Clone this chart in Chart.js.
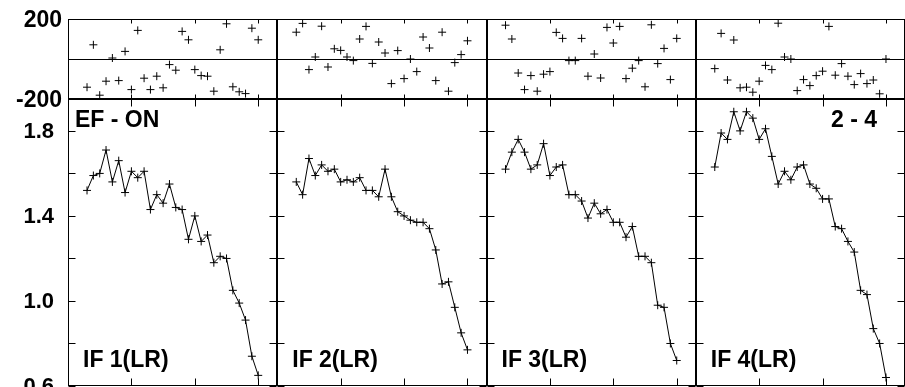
<!DOCTYPE html>
<html>
<head>
<meta charset="utf-8">
<script src="https://cdn.jsdelivr.net/npm/chart.js@4.4.1/dist/chart.umd.min.js"></script>
<style>
  html, body { margin: 0; padding: 0; background: #fff; overflow: hidden; }
  #wrap { position: relative; width: 905px; height: 387px; }
</style>
</head>
<body>
<div id="wrap"><canvas id="c"></canvas></div>
<script>
// channel number along each panel
const channels = [3, 4, 5, 6, 7, 8, 9, 10, 11, 12, 13, 14, 15, 16, 17, 18, 19, 20, 21, 22, 23, 24, 25, 26, 27, 28, 29, 30];
const xTicks = [10, 20, 30];
const phaseTicks = [-200, 0, 200];
const ampTicks = [0.6, 0.8, 1.0, 1.2, 1.4, 1.6, 1.8];
const ampLabelled = [0.6, 1.0, 1.4, 1.8];
const panelNames = ['IF 1(LR)', 'IF 2(LR)', 'IF 3(LR)', 'IF 4(LR)'];

// phase (deg), top strip
const phase1 = [-141, 71, -181, -111, 5, -108, 38, -153, 143, -96, -153, -86, -144, -28, -56, 138, 96, -53, -83, -86, -161, 46, 176, -139, -164, -173, 154, 96];
const phase2 = [134, 178, -53, 10, 164, -40, 51, 43, 10, -8, 100, 163, -22, 85, 30, -123, 42, -98, 0, -63, 110, 55, -108, 134, -161, -18, 22, 91];
const phase3 = [169, 100, -70, -153, -83, -161, -76, -63, 133, 103, -8, -8, 103, -86, 25, -95, 158, 80, 163, -98, -46, -8, -139, 171, -23, 53, -103, 103];
const phase4 = [-48, 128, -105, 95, -144, -141, -166, -111, -32, -53, 179, 10, 0, -158, -103, -133, -83, -61, 163, -81, -23, -86, -128, -73, -123, -105, -174, 0];

// amplitude, lower panel
const amp1 = [1.52, 1.59, 1.60, 1.71, 1.56, 1.66, 1.51, 1.61, 1.58, 1.61, 1.43, 1.50, 1.46, 1.55, 1.44, 1.43, 1.29, 1.40, 1.28, 1.31, 1.18, 1.21, 1.20, 1.05, 0.99, 0.91, 0.74, 0.65];
const amp2 = [1.56, 1.50, 1.67, 1.59, 1.64, 1.61, 1.62, 1.56, 1.57, 1.56, 1.58, 1.52, 1.52, 1.49, 1.62, 1.49, 1.42, 1.40, 1.38, 1.37, 1.37, 1.34, 1.24, 1.08, 1.09, 0.97, 0.85, 0.77];
const amp3 = [1.62, 1.70, 1.76, 1.70, 1.62, 1.64, 1.74, 1.59, 1.63, 1.64, 1.50, 1.50, 1.47, 1.39, 1.46, 1.41, 1.43, 1.37, 1.37, 1.30, 1.35, 1.21, 1.21, 1.18, 0.98, 0.97, 0.80, 0.72];
const amp4 = [1.63, 1.79, 1.76, 1.89, 1.80, 1.89, 1.86, 1.76, 1.81, 1.68, 1.55, 1.61, 1.57, 1.63, 1.64, 1.55, 1.53, 1.48, 1.48, 1.35, 1.34, 1.28, 1.23, 1.05, 1.03, 0.87, 0.80, 0.64];

const phases = [phase1, phase2, phase3, phase4];
const amps = [amp1, amp2, amp3, amp4];
const xIds = ['x1', 'x2', 'x3', 'x4'];

const FONT = '"Liberation Sans", Arial, sans-serif';

const datasets = [];
xIds.forEach((xid, i) => {
  datasets.push({
    data: channels.map((c, k) => ({x: c, y: phases[i][k]})),
    xAxisID: xid, yAxisID: 'yPhase',
    showLine: false,
    pointStyle: 'cross', pointRadius: 4, pointBorderWidth: 1,
    borderColor: '#000', backgroundColor: '#000'
  });
  datasets.push({
    data: channels.map((c, k) => ({x: c, y: amps[i][k]})),
    xAxisID: xid, yAxisID: 'yAmp',
    showLine: true, borderWidth: 1, tension: 0,
    pointStyle: 'cross', pointRadius: 4, pointBorderWidth: 1,
    borderColor: '#000', backgroundColor: '#000'
  });
});

const scales = {};
xIds.forEach(id => {
  scales[id] = {
    type: 'linear', position: 'bottom', stack: 'cols', stackWeight: 1,
    min: 0, max: 33,
    afterBuildTicks: s => { s.ticks = xTicks.map(v => ({value: v})); },
    ticks: { display: false },
    grid: { display: false, drawTicks: false },
    border: { display: false },
    afterFit: s => { s.height = 0; s.paddingLeft = 0; s.paddingRight = 0; }
  };
});
scales.yAmp = {
  type: 'linear', position: 'left', stack: 'rows', stackWeight: 287, weight: 0,
  min: 0.6, max: 1.95,
  afterBuildTicks: s => { s.ticks = ampTicks.map(v => ({value: v})); },
  ticks: {
    autoSkip: false, padding: 14, color: '#000', labelOffset: 1,
    font: { family: FONT, size: 22, weight: 'bold' },
    callback: v => ampLabelled.some(a => Math.abs(a - v) < 1e-6) ? v.toFixed(1) : ''
  },
  grid: { display: false, drawTicks: false },
  border: { display: false },
  afterFit: s => { s.width = 68; s.paddingTop = 0; s.paddingBottom = 0; }
};
scales.yPhase = {
  type: 'linear', position: 'left', stack: 'rows', stackWeight: 80, weight: 1,
  min: -200, max: 200,
  afterBuildTicks: s => { s.ticks = phaseTicks.map(v => ({value: v})); },
  ticks: {
    autoSkip: false, padding: 6, color: '#000', labelOffset: 2,
    font: { family: FONT, size: 23, weight: 'bold' },
    callback: v => v === 0 ? '' : String(v)
  },
  grid: {
    drawTicks: false,
    lineWidth: 1,
    color: c => (c.tick && c.tick.value === 0) ? '#000' : 'rgba(0,0,0,0)'
  },
  border: { display: false },
  afterFit: s => { s.width = 68; s.paddingTop = 0; s.paddingBottom = 0; }
};

// frames, inward tick marks and panel captions
const panelFrames = {
  id: 'panelFrames',
  beforeDatasetsDraw(chart) {
    const ctx = chart.ctx;
    const yp = chart.scales.yPhase, ya = chart.scales.yAmp;
    ctx.save();
    ctx.strokeStyle = '#000';
    ctx.lineWidth = 1;
    xIds.forEach(id => {
      const xs = chart.scales[id];
      [[yp, 4], [ya, 7]].forEach(([ys, len]) => {
        const l = Math.round(xs.left) + 0.5, r = Math.round(xs.right) - 0.5;
        const t = Math.round(ys.top) + 0.5, b = Math.round(ys.bottom) - 0.5;
        ctx.strokeRect(l, t, r - l, b - t);
        ctx.beginPath();
        xs.ticks.forEach(tk => {
          const px = Math.round(xs.getPixelForValue(tk.value)) + 0.5;
          ctx.moveTo(px, t); ctx.lineTo(px, t + len);
          ctx.moveTo(px, b); ctx.lineTo(px, b - len);
        });
        ys.ticks.forEach(tk => {
          const py = Math.round(ys.getPixelForValue(tk.value)) + 0.5;
          ctx.moveTo(l, py); ctx.lineTo(l + len, py);
          ctx.moveTo(r, py); ctx.lineTo(r - len, py);
        });
        ctx.stroke();
      });
    });

    ctx.fillStyle = '#000';
    ctx.font = 'bold 23px ' + FONT;
    ctx.textBaseline = 'alphabetic';
    ctx.textAlign = 'left';
    ctx.fillText('EF - ON', chart.scales.x1.left + 7, ya.top + 27.5);
    ctx.textAlign = 'right';
    ctx.fillText('2 - 4', chart.scales.x4.right - 28, ya.top + 27.5);
    ctx.textAlign = 'left';
    panelNames.forEach((n, i) => {
      ctx.fillText(n, chart.scales[xIds[i]].left + 15, ya.bottom - 19);
    });
    ctx.restore();
  }
};

new Chart(document.getElementById('c'), {
  type: 'scatter',
  data: { datasets },
  options: {
    responsive: true,
    maintainAspectRatio: false,
    animation: false,
    layout: { autoPadding: false, padding: { top: 19, bottom: 1, left: 0, right: -1 } },
    plugins: { legend: { display: false }, tooltip: { enabled: false } },
    scales
  },
  plugins: [panelFrames]
});
</script>
</body>
</html>
